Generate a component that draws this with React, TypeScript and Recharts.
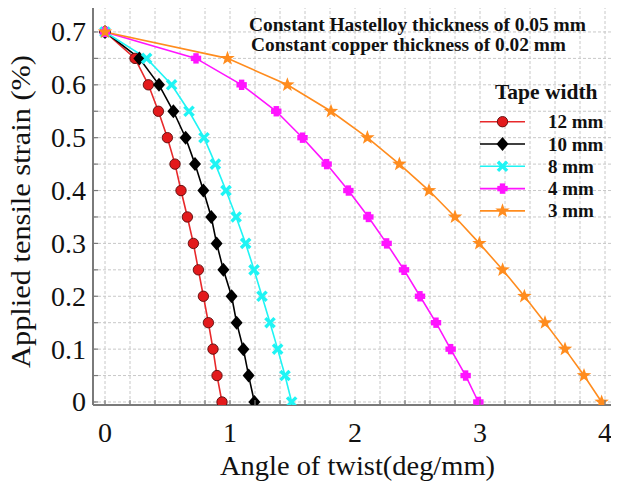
import { CartesianGrid, Line, LineChart, XAxis, YAxis } from "recharts";

// applied tensile strain levels (%), shared by every tape
const strain = [0.7, 0.65, 0.6, 0.55, 0.5, 0.45, 0.4, 0.35, 0.3, 0.25, 0.2, 0.15, 0.1, 0.05, 0];

// angle of twist (deg/mm) at each strain level
const twist12 = [0, 0.24, 0.347, 0.427, 0.499, 0.56, 0.608, 0.659, 0.707, 0.747, 0.787, 0.827, 0.864, 0.896, 0.936];
const twist10 = [0, 0.275, 0.432, 0.547, 0.645, 0.72, 0.787, 0.85, 0.893, 0.947, 1.013, 1.053, 1.107, 1.149, 1.195];
const twist8 = [0, 0.333, 0.533, 0.672, 0.792, 0.883, 0.968, 1.049, 1.125, 1.192, 1.256, 1.32, 1.381, 1.44, 1.493];
const twist4 = [0, 0.728, 1.093, 1.37, 1.58, 1.773, 1.947, 2.107, 2.253, 2.392, 2.52, 2.648, 2.765, 2.885, 2.987];
const twist3 = [0, 0.98, 1.459, 1.808, 2.099, 2.355, 2.592, 2.8, 2.995, 3.181, 3.355, 3.52, 3.68, 3.832, 3.973];

const widthLabels = ["12 mm", "10 mm", "8 mm", "4 mm", "3 mm"];

const xTicks = [0, 0.2, 0.4, 0.6, 0.8, 1, 1.2, 1.4, 1.6, 1.8, 2, 2.2, 2.4, 2.6, 2.8, 3, 3.2, 3.4, 3.6, 3.8, 4];
const yTicks = [0, 0.05, 0.1, 0.15, 0.2, 0.25, 0.3, 0.35, 0.4, 0.45, 0.5, 0.55, 0.6, 0.65, 0.7];

const W = 619;
const H = 489;
const FONT = '"Liberation Serif", "Times New Roman", serif';
const AXIS = "#7a7a7a";
const X_DOMAIN: [number, number] = [-0.096, 4.104];
const Y_DOMAIN: [number, number] = [-0.0057, 0.7491];

type MarkerKind = "circle" | "diamond" | "x" | "plus" | "star";

function Marker({ kind, cx, cy, color }: { kind: MarkerKind; cx: number; cy: number; color: string }) {
  if (kind === "circle") return <circle cx={cx} cy={cy} r={5.2} fill="#e31a1c" stroke="#5a0a0a" strokeWidth={0.9} />;
  if (kind === "diamond")
    return <polygon points={`${cx},${cy - 7} ${cx + 6},${cy} ${cx},${cy + 7} ${cx - 6},${cy}`} fill="#000" />;
  if (kind === "x")
    return (
      <g stroke={color} strokeWidth={3.4}>
        <line x1={cx - 4.6} y1={cy - 4.6} x2={cx + 4.6} y2={cy + 4.6} />
        <line x1={cx - 4.6} y1={cy + 4.6} x2={cx + 4.6} y2={cy - 4.6} />
      </g>
    );
  if (kind === "plus")
    return (
      <g stroke={color} strokeWidth={5.4}>
        <line x1={cx - 5.2} y1={cy} x2={cx + 5.2} y2={cy} />
        <line x1={cx} y1={cy - 5.2} x2={cx} y2={cy + 5.2} />
      </g>
    );
  const pts: string[] = [];
  for (let i = 0; i < 10; i++) {
    const r = i % 2 === 0 ? 7.6 : 3.1;
    const a = -Math.PI / 2 + (i * Math.PI) / 5;
    pts.push(`${cx + r * Math.cos(a)},${cy + r * Math.sin(a)}`);
  }
  return <polygon points={pts.join(" ")} fill={color} />;
}

const series = [
  { name: widthLabels[0], values: twist12, color: "#e8292b", kind: "circle" as MarkerKind },
  { name: widthLabels[1], values: twist10, color: "#000000", kind: "diamond" as MarkerKind },
  { name: widthLabels[2], values: twist8, color: "#1ff4f4", kind: "x" as MarkerKind },
  { name: widthLabels[3], values: twist4, color: "#ff14ff", kind: "plus" as MarkerKind },
  { name: widthLabels[4], values: twist3, color: "#ff8c1e", kind: "star" as MarkerKind },
].map((s) => ({ ...s, data: s.values.map((x, i) => ({ x, y: strain[i] })) }));

const isWhole = (v: number) => Math.abs(v - Math.round(v)) < 1e-9;
const isTenth = (v: number) => Math.abs(v * 10 - Math.round(v * 10)) < 1e-9;

function BottomTick({ x, y, payload }: any) {
  const v = payload.value as number;
  return (
    <g>
      <line x1={x} x2={x} y1={y} y2={y - 5} stroke={AXIS} strokeWidth={1.2} />
      {isWhole(v) && (
        <text x={x} y={y + 37} textAnchor="middle" fontFamily={FONT} fontSize={28} fill="#111">
          {String(Math.round(v))}
        </text>
      )}
    </g>
  );
}

function TopTick({ x, y }: any) {
  return <line x1={x} x2={x} y1={y} y2={y + 5} stroke={AXIS} strokeWidth={1.2} />;
}

function LeftTick({ x, y, payload }: any) {
  const v = payload.value as number;
  return (
    <g>
      <line x1={x} x2={x + 5} y1={y} y2={y} stroke={AXIS} strokeWidth={1.2} />
      {isTenth(v) && (
        <text x={x - 7} y={y + 9.5} textAnchor="end" fontFamily={FONT} fontSize={28} fill="#111">
          {v === 0 ? "0" : v.toFixed(1)}
        </text>
      )}
    </g>
  );
}

function RightTick({ x, y }: any) {
  return <line x1={x} x2={x - 6} y1={y} y2={y} stroke={AXIS} strokeWidth={1.2} />;
}

export default function App() {
  return (
    <div style={{ position: "relative", width: W, height: H, margin: -8, background: "#fff" }}>
      <LineChart width={W} height={H} margin={{ top: 5, right: 0, bottom: 83, left: 92 }}>
        <CartesianGrid stroke="#c8c8c8" strokeDasharray="3 2" />
        <XAxis
          type="number"
          dataKey="x"
          domain={X_DOMAIN}
          ticks={xTicks}
          interval={0}
          allowDataOverflow
          height={1}
          tickSize={0}
          tickMargin={0}
          axisLine={{ stroke: AXIS, strokeWidth: 2 }}
          tick={BottomTick}
        />
        <XAxis
          xAxisId="top"
          orientation="top"
          type="number"
          domain={X_DOMAIN}
          ticks={xTicks}
          interval={0}
          allowDataOverflow
          height={1}
          tickSize={0}
          tickMargin={0}
          axisLine={{ stroke: AXIS, strokeWidth: 1.5 }}
          tick={TopTick}
        />
        <YAxis
          type="number"
          dataKey="y"
          domain={Y_DOMAIN}
          ticks={yTicks}
          interval={0}
          allowDataOverflow
          width={1}
          tickSize={0}
          tickMargin={0}
          axisLine={{ stroke: AXIS, strokeWidth: 2 }}
          tick={LeftTick}
        />
        <YAxis
          yAxisId="right"
          orientation="right"
          type="number"
          domain={Y_DOMAIN}
          ticks={yTicks}
          interval={0}
          allowDataOverflow
          width={1}
          tickSize={0}
          tickMargin={0}
          axisLine={{ stroke: AXIS, strokeWidth: 1.5 }}
          tick={RightTick}
        />
        {series.map((s) => (
          <Line
            key={s.name}
            data={s.data}
            dataKey="y"
            type="linear"
            stroke={s.color}
            strokeWidth={1.6}
            isAnimationActive={false}
            dot={(p: any) => <Marker key={`${s.name}-${p.index}`} kind={s.kind} cx={p.cx} cy={p.cy} color={s.color} />}
            activeDot={false}
          />
        ))}
      </LineChart>
      <svg width={W} height={H} style={{ position: "absolute", left: 0, top: 0, pointerEvents: "none" }}>
        <g fontFamily={FONT} fontWeight="bold" fontSize={18} fill="#111">
          <text x={249} y={31} textLength={337} lengthAdjust="spacingAndGlyphs">
            Constant Hastelloy thickness of 0.05 mm
          </text>
          <text x={251} y={51} textLength={315} lengthAdjust="spacingAndGlyphs">
            Constant copper thickness of 0.02 mm
          </text>
        </g>
        <text x={495} y={99} fontFamily={FONT} fontWeight="bold" fontSize={21.5} fill="#111">
          Tape width
        </text>
        {series.map((s, i) => {
          const cy = 121.7 + i * 22.3;
          return (
            <g key={s.name}>
              <line x1={480} x2={525} y1={cy} y2={cy} stroke={s.color} strokeWidth={1.6} />
              <Marker kind={s.kind} cx={502.5} cy={cy} color={s.color} />
              <text x={548} y={cy + 6.5} fontFamily={FONT} fontWeight="bold" fontSize={19} fill="#111">
                {s.name}
              </text>
            </g>
          );
        })}
        <text x={220} y={475} fontFamily={FONT} fontSize={28} fill="#111" textLength={275} lengthAdjust="spacingAndGlyphs">
          Angle of twist(deg/mm)
        </text>
        <text
          transform="translate(30,368) rotate(-90)"
          fontFamily={FONT}
          fontSize={28}
          fill="#111"
          textLength={313}
          lengthAdjust="spacingAndGlyphs"
        >
          Applied tensile strain (%)
        </text>
      </svg>
    </div>
  );
}
